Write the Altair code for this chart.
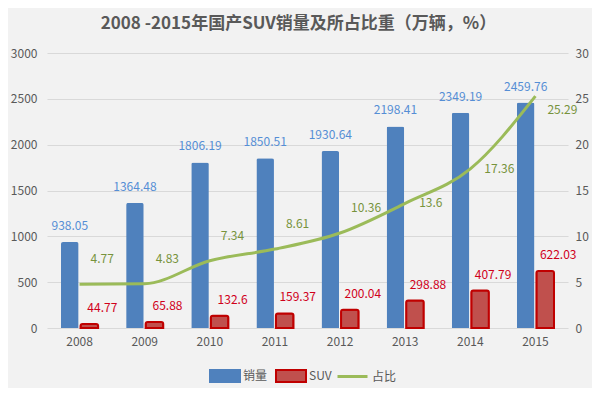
import altair as alt
import pandas as pd

years = ["2008", "2009", "2010", "2011", "2012", "2013", "2014", "2015"]
sales = [938.05, 1364.48, 1806.19, 1850.51, 1930.64, 2198.41, 2349.19, 2459.76]
suv = [44.77, 65.88, 132.6, 159.37, 200.04, 298.88, 407.79, 622.03]
ratio = [4.77, 4.83, 7.34, 8.61, 10.36, 13.6, 17.36, 25.29]
series_names = ["销量", "SUV"]
ratio_name = "占比"
title_text = "2008 -2015年国产SUV销量及所占比重（万辆，%）"

rows = []
for y, a, b in zip(years, sales, suv):
    rows.append({"year": y, "series": series_names[0], "value": a, "label": f"{a:g}"})
    rows.append({"year": y, "series": series_names[1], "value": b, "label": f"{b:g}"})
bar_df = pd.DataFrame(rows)

# label placement rule: above the line where it is flat, beside it where it climbs steeply,
# below-right at the final point
placement = []
for i, r in enumerate(ratio):
    if i == len(ratio) - 1:
        placement.append("below")
    elif ratio[i + 1] - r >= 3.5:
        placement.append("beside")
    else:
        placement.append("above")
line_df = pd.DataFrame({"year": years, "ratio": ratio, "name": ratio_name,
                        "label": [f"{r:g}" for r in ratio], "place": placement})

FONT = "Noto Sans CJK SC"
GREY = "#595959"

x_enc = alt.X("year:N", sort=years,
              scale=alt.Scale(paddingInner=0.4, paddingOuter=0.2),
              axis=alt.Axis(title=None, labelAngle=0, ticks=False, domain=False,
                            labelPadding=8, labelFontSize=12, labelColor=GREY, labelFont=FONT))
xoff = alt.XOffset("series:N", sort=series_names,
                   scale=alt.Scale(domain=series_names, paddingInner=0.1, paddingOuter=0.05))
y_left = alt.Y("value:Q", scale=alt.Scale(domain=[0, 3000]),
               axis=alt.Axis(title=None, values=list(range(0, 3001, 500)), format="d",
                             ticks=False, domain=False, labelPadding=10, labelFontSize=12,
                             labelColor=GREY, labelFont=FONT, grid=True,
                             gridColor="#d9d9d9", gridWidth=1))

bar_legend = dict(orient="none", legendX=162, legendY=307, direction="horizontal",
                  title=None, symbolType="M-1,-0.4H1V0.4H-1Z", symbolSize=900,
                  symbolStrokeWidth=2, labelFontSize=12, labelColor=GREY, labelFont=FONT,
                  columnPadding=4, labelOffset=2)

bars = alt.Chart(bar_df).mark_bar(cornerRadiusTopLeft=2, cornerRadiusTopRight=2).encode(
    x=x_enc,
    xOffset=xoff,
    y=y_left,
    color=alt.Color("series:N", sort=series_names,
                    scale=alt.Scale(domain=series_names, range=["#4f81bd", "#c0504d"]),
                    legend=alt.Legend(symbolOpacity=1, **bar_legend)),
    stroke=alt.Stroke("series:N", sort=series_names,
                      scale=alt.Scale(domain=series_names, range=["#4f81bd", "#c00000"]),
                      legend=alt.Legend(**bar_legend)),
    strokeWidth=alt.condition(alt.datum.series == series_names[1], alt.value(2), alt.value(0)),
)

blue_labels = alt.Chart(bar_df).transform_filter(alt.datum.series == series_names[0]).mark_text(
    baseline="bottom", dy=-9, fontSize=12, font=FONT, color="#558ed5").encode(
    x=alt.X("year:N", sort=years), xOffset=xoff, y=alt.Y("value:Q"), text="label:N")

red_labels = alt.Chart(bar_df).transform_filter(alt.datum.series == series_names[1]).mark_text(
    baseline="bottom", dy=-9, dx=13, fontSize=12, font=FONT, color="#d0001a").encode(
    x=alt.X("year:N", sort=years), xOffset=xoff, y=alt.Y("value:Q"), text="label:N")

left = alt.layer(bars, blue_labels, red_labels)

y_right = alt.Y("ratio:Q", scale=alt.Scale(domain=[0, 30]),
                axis=alt.Axis(title=None, orient="right", values=list(range(0, 31, 5)),
                              ticks=False, domain=False, grid=False, labelPadding=7,
                              labelFontSize=12, labelColor=GREY, labelFont=FONT))

line = alt.Chart(line_df).mark_line(strokeWidth=3, interpolate="monotone").encode(
    x=alt.X("year:N", sort=years),
    y=y_right,
    color=alt.Color("name:N", scale=alt.Scale(domain=[ratio_name], range=["#9bbb59"]),
                    legend=alt.Legend(orient="none", legendX=289, legendY=307, title=None,
                                      symbolType="stroke", symbolSize=900,
                                      symbolStrokeWidth=3, labelFontSize=12,
                                      labelColor=GREY, labelFont=FONT, labelOffset=3)),
)


def ratio_text(place, dx, dy):
    return alt.Chart(line_df).transform_filter(alt.datum.place == place).mark_text(
        align="left", baseline="middle", dx=dx, dy=dy, fontSize=12, font=FONT,
        color="#77933c").encode(
        x=alt.X("year:N", sort=years), y=alt.Y("ratio:Q"), text="label:N")


right = alt.layer(line, ratio_text("above", 11, -25), ratio_text("beside", 14, 0),
                  ratio_text("below", 12, 14))

chart = alt.layer(left, right).resolve_scale(
    y="independent", color="independent", stroke="independent"
).properties(
    width=521, height=275,
    autosize=alt.AutoSizeParams(type="none"),
    padding={"left": 39, "top": 45, "right": 24, "bottom": 60},
    background="#f2f2f2",
    title=alt.TitleParams(title_text, fontSize=17, fontWeight="bold", color=GREY,
                          font=FONT, anchor="middle", offset=14, dx=-9),
).configure_view(stroke=None)

chart.save("out.html", embed_options={"renderer": "svg", "actions": False})
